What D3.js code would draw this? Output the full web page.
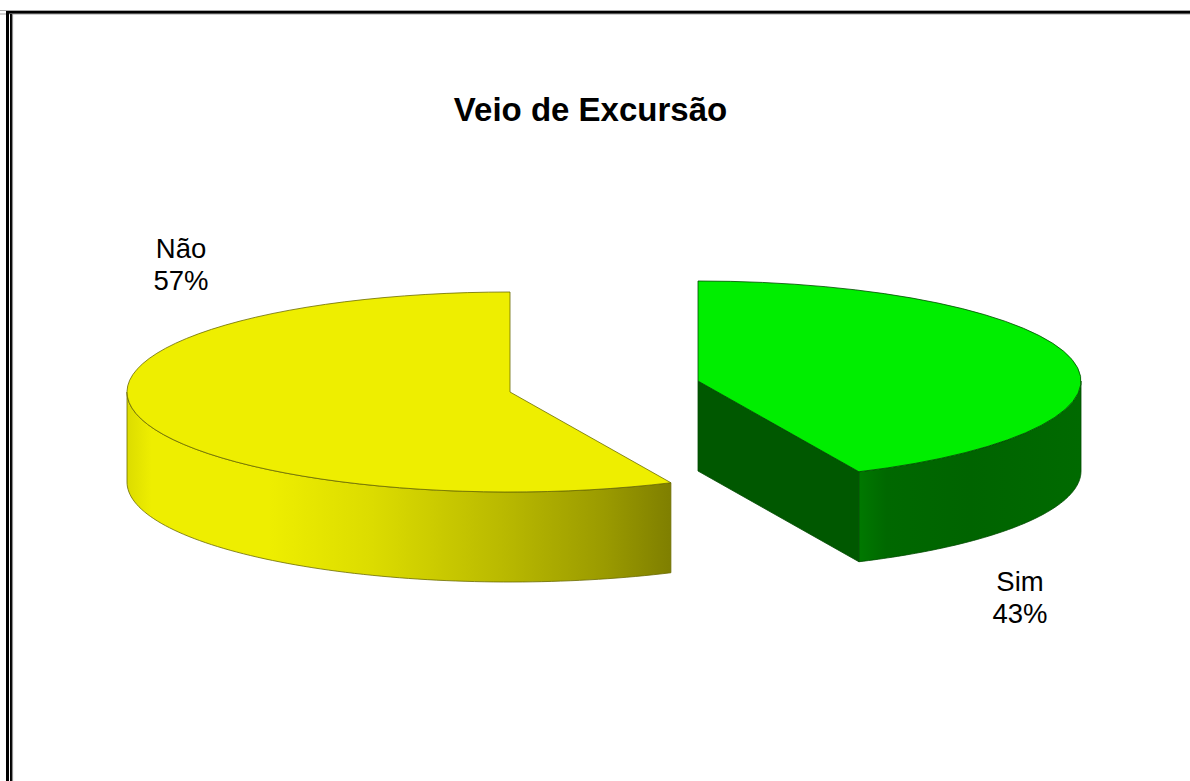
<!DOCTYPE html>
<html><head><meta charset="utf-8">
<script src="https://cdn.jsdelivr.net/npm/d3@7"></script>
<style>html,body{margin:0;padding:0;background:#fff;overflow:hidden}svg{display:block}text{font-family:"Liberation Sans",Arial,sans-serif;fill:#000}</style>
</head><body><script>
const title = "Veio de Excursão";
const categories = ["Sim", "Não"];
const percents = [43.1, 56.9];

const W = 1190, H = 781, RX = 383, RY = 100, DEPTH = 90;
const centers = {"Sim": [698, 381], "Não": [510, 392]};
const labelPos = {"Sim": [1020, 591], "Não": [181, 258]};
const topColor = {"Sim": "#00ee00", "Não": "#eeee00"};
const edge = {"Sim": "#004a00", "Não": "#6b6b00"};

const svg = d3.select("body").append("svg").attr("width", W).attr("height", H);
const defs = svg.append("defs");

function grad(id, x1, x2, stops){
  const g = defs.append("linearGradient").attr("id", id)
    .attr("gradientUnits", "userSpaceOnUse")
    .attr("x1", x1).attr("x2", x2).attr("y1", 0).attr("y2", 0);
  stops.forEach(s => g.append("stop").attr("offset", s[0]).attr("stop-color", s[1]));
}
grad("wallNao", 127, 671, [[0,"#dcdc00"],[0.045,"#eeee00"],[0.26,"#eeee00"],[0.45,"#dcdc00"],[0.7,"#b8b800"],[0.88,"#9a9a00"],[1,"#7f7f00"]]);
grad("wallSim", 860, 1081, [[0,"#007800"],[0.12,"#006800"],[0.5,"#006400"],[1,"#006a00"]]);

// outer frame
const frame = svg.append("g");
[[0,10.5,W,10.5,"#a8a8a8",1],[6,12.5,W,12.5,"#000",3],[0,14,W,14,"#a0a0a0",1],
 [7.5,11,7.5,H,"#000",3],[11,14,11,H,"#000",2],[12.5,14,12.5,H,"#909090",1.2]].forEach(l =>
  frame.append("line").attr("x1",l[0]).attr("y1",l[1]).attr("x2",l[2]).attr("y2",l[3]).attr("stroke",l[4]).attr("stroke-width",l[5]));

svg.append("text").attr("x", 590.5).attr("y", 121).attr("text-anchor", "middle")
  .attr("font-size", 33).attr("font-weight", "bold").text(title);

const pie = d3.pie().sort(null).value(d => d)(percents);
const arc = d3.arc().innerRadius(0).outerRadius(RX);
const rim = (a, c, dy=0) => [c[0] + RX*Math.sin(a), c[1] - RY*Math.cos(a) + dy];
const line = d3.line();

function wall(a0, a1, c){
  const n = 80, top = [], bottom = [];
  d3.range(n+1).forEach(i => {
    const a = a0 + (a1-a0)*i/n;
    top.push(rim(a, c)); bottom.push(rim(a, c, DEPTH));
  });
  return line(top.concat(bottom.reverse())) + "Z";
}

pie.forEach((p, i) => {
  const name = categories[i], c = centers[name];
  const g = svg.append("g");
  if (name === "Sim") {
    // cut face, then outer wall
    const rimPt = rim(p.endAngle, c);
    g.append("path").attr("d", line([c, rimPt, [rimPt[0], rimPt[1]+DEPTH], [c[0], c[1]+DEPTH]]) + "Z")
      .attr("fill", "#005800").attr("stroke", edge[name]).attr("stroke-width", 0.8);
    g.append("path").attr("d", wall(Math.PI/2, p.endAngle, c))
      .attr("fill", "url(#wallSim)").attr("stroke", edge[name]).attr("stroke-width", 0.8);
  } else {
    g.append("path").attr("d", wall(p.startAngle, 1.5*Math.PI, c))
      .attr("fill", "url(#wallNao)").attr("stroke", edge[name]).attr("stroke-width", 0.8);
  }
  g.append("path").attr("d", arc(p))
    .attr("transform", `translate(${c[0]},${c[1]}) scale(1,${RY/RX})`)
    .attr("fill", topColor[name]).attr("stroke", edge[name]).attr("stroke-width", 0.8)
    .attr("vector-effect", "non-scaling-stroke");
  const lp = labelPos[name];
  const t = svg.append("text").attr("text-anchor", "middle").attr("font-size", 27.5);
  t.append("tspan").attr("x", lp[0]).attr("y", lp[1]).text(name);
  t.append("tspan").attr("x", lp[0]).attr("y", lp[1] + 32).text(Math.round(percents[i]) + "%");
});
</script></body></html>
